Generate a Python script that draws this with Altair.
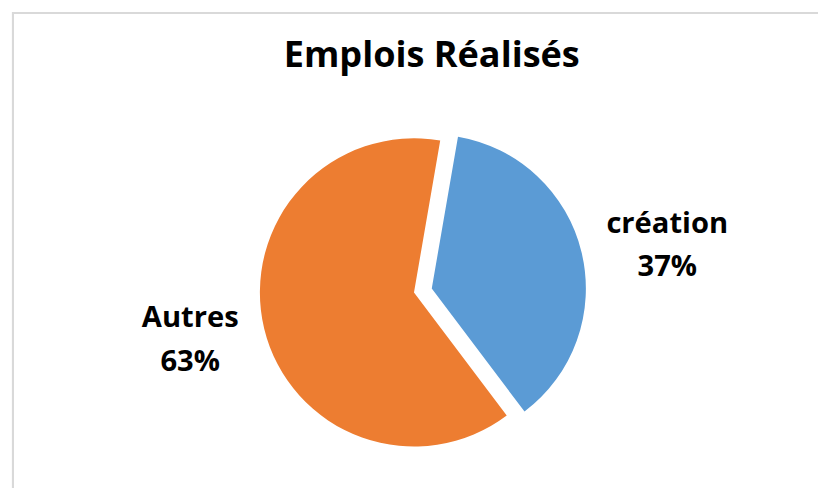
import altair as alt
import pandas as pd
import math

categories = ["création", "Autres"]
values = [37, 63]
colors = ["#5B9BD5", "#ED7D31"]

df = pd.DataFrame({"category": categories, "value": values, "order": [0, 1]})

start = math.radians(9.8)
theta_scale = alt.Scale(domain=[0, 100], range=[start, start + 2 * math.pi])
color_scale = alt.Scale(domain=categories, range=colors)

CX, CY = 411, 285
R = 156
EX, EY = 18, -4
FONT = "Open Sans"

base = alt.Chart(df).transform_window(
    cum="sum(value)", sort=[alt.SortField("order")], frame=[None, 0]
).transform_calculate(
    start_v="datum.cum - datum.value",
    mid_v="datum.cum - datum.value / 2",
    label="datum.category + '\\n' + datum.value + '%'",
)

border = alt.Chart(df).mark_rect(fill=None, stroke="#D9D9D9", strokeWidth=2).encode(
    x=alt.value(5), y=alt.value(2), x2=alt.value(900), y2=alt.value(600)
)
side_line = alt.Chart(df).mark_rule(stroke="#D9D9D9", strokeWidth=2).encode(
    x=alt.value(-5), y=alt.value(2), y2=alt.value(600)
)

arc_autres = base.transform_filter(alt.datum.category == "Autres").mark_arc(
    x=CX, y=CY, outerRadius=R
).encode(
    theta=alt.Theta("start_v:Q", scale=theta_scale),
    theta2="cum:Q",
    color=alt.Color("category:N", scale=color_scale, legend=None),
)

arc_creation = base.transform_filter(alt.datum.category == "création").mark_arc(
    x=CX + EX, y=CY + EY, outerRadius=R
).encode(
    theta=alt.Theta("start_v:Q", scale=theta_scale),
    theta2="cum:Q",
    color=alt.Color("category:N", scale=color_scale, legend=None),
)

lbl_props = dict(font=FONT, fontSize=29.5, fontWeight="bold", color="#000000",
                 lineBreak="\n", lineHeight=44, align="center", baseline="middle")

lbl_creation = base.transform_filter(alt.datum.category == "création").mark_text(
    x=CX + EX, y=CY + EY, radius=236, dx=9, dy=-10, **lbl_props
).encode(theta=alt.Theta("mid_v:Q", scale=theta_scale), text="label:N")

lbl_autres = base.transform_filter(alt.datum.category == "Autres").mark_text(
    x=CX, y=CY, radius=231, dx=-2, dy=-28, **lbl_props
).encode(theta=alt.Theta("mid_v:Q", scale=theta_scale), text="label:N")

chart = alt.layer(border, side_line, arc_autres, arc_creation, lbl_creation, lbl_autres).properties(
    width=820,
    height=480,
    autosize=alt.AutoSizeParams(type="none"),
    padding=0,
    title=alt.Title("Emplois Réalisés", anchor="middle", frame="group", orient="top",
                    font=FONT, fontSize=36.5, fontWeight="bold", color="#000000",
                    baseline="alphabetic", offset=0, dy=93, dx=19),
).configure_view(stroke=None)

chart.save("out.html", embed_options={"renderer": "svg", "actions": False})
